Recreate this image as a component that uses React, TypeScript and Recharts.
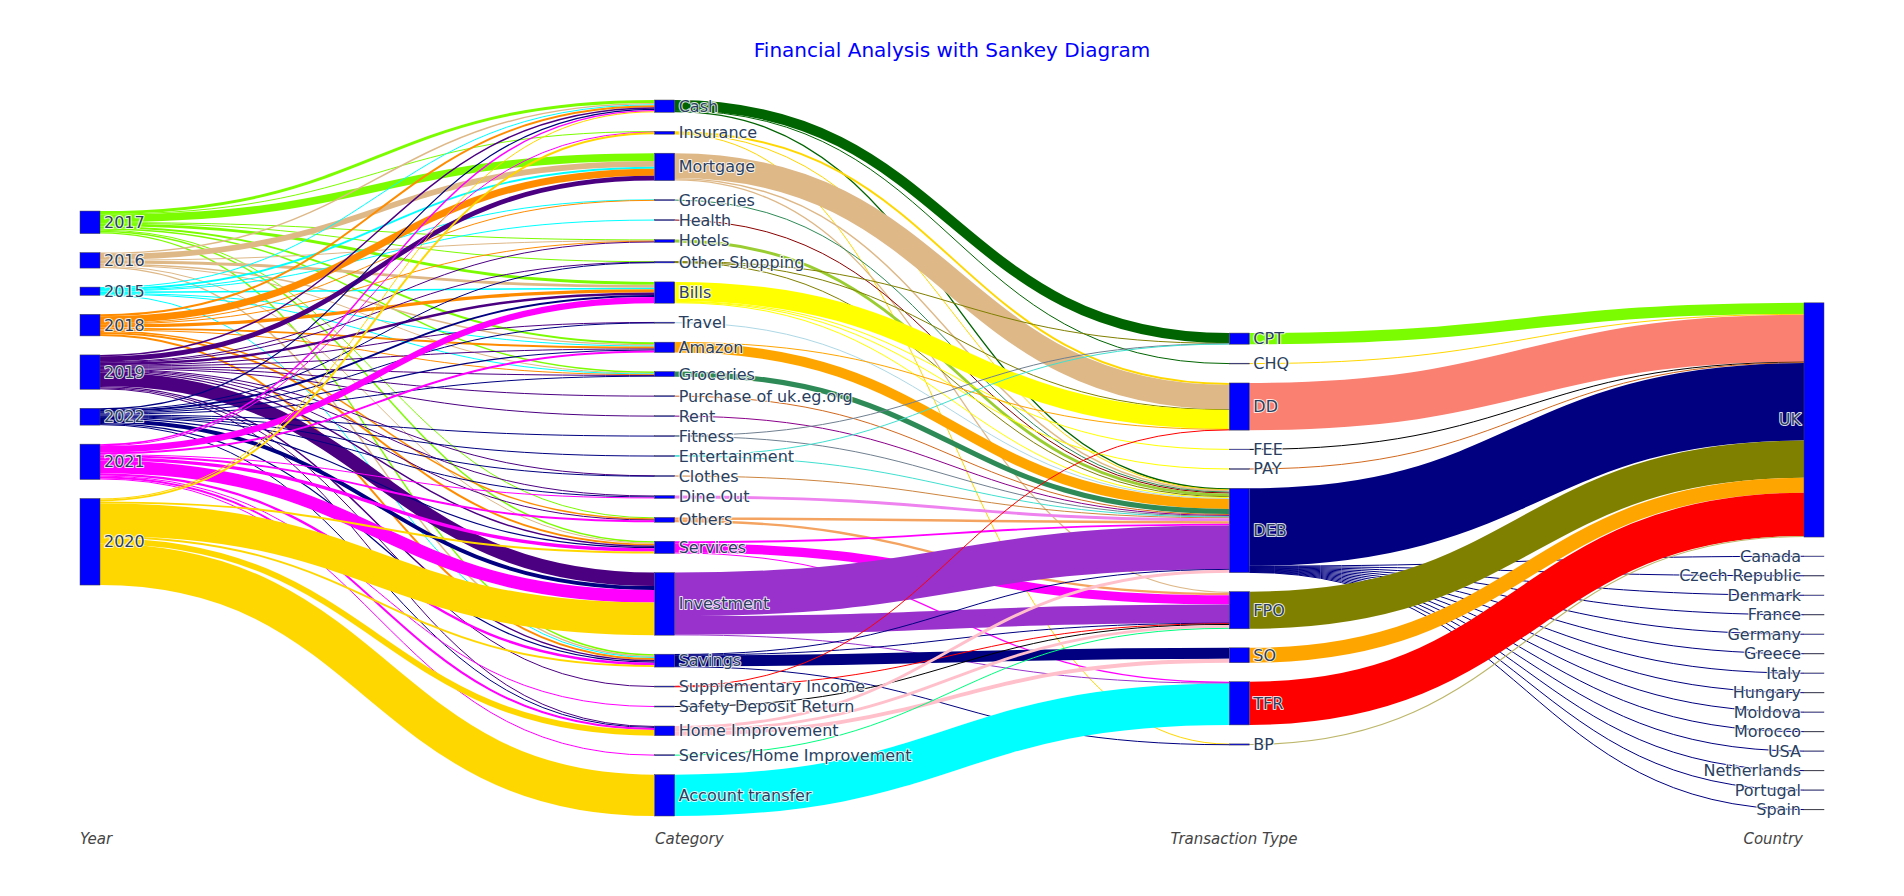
import React from 'react';
import { Sankey } from 'recharts';

const years = ['2017', '2016', '2015', '2018', '2019', '2022', '2021', '2020'];

const categories = [
  'Cash', 'Insurance', 'Mortgage', 'Groceries', 'Health', 'Hotels', 'Other Shopping', 'Bills',
  'Travel', 'Amazon', 'Groceries', 'Purchase of uk.eg.org', 'Rent', 'Fitness', 'Entertainment',
  'Clothes', 'Dine Out', 'Others', 'Services', 'Investment', 'Savings', 'Supplementary Income',
  'Safety Deposit Return', 'Home Improvement', 'Services/Home Improvement', 'Account transfer',
];

const transactionTypes = ['CPT', 'CHQ', 'DD', 'FEE', 'PAY', 'DEB', 'FPO', 'SO', 'TFR', 'BP'];

const countries = [
  'UK', 'Canada', 'Czech Republic', 'Denmark', 'France', 'Germany', 'Greece', 'Italy',
  'Hungary', 'Moldova', 'Morocco', 'USA', 'Netherlands', 'Portugal', 'Spain',
];

// year -> category (rows: years, columns: categories)
const yearToCategory = [
  [3, 0.5, 8, 0, 0, 0.8, 0.5, 3, 0, 2, 1.5, 0, 0, 0, 0, 0, 0, 1, 1.5, 0, 1.5, 0, 0, 0, 0, 0],
  [1.5, 0, 6, 0, 0, 0.7, 0, 3, 0, 1.5, 0.8, 0, 0, 0, 0, 0, 0, 0, 1, 0, 1.5, 0, 0, 0, 0, 0],
  [1, 0, 2, 0.5, 1, 0, 0, 1.5, 0, 1, 0.5, 0, 0, 0, 0, 0, 0, 0, 0, 0, 1, 0, 0, 0, 0, 0],
  [2, 0, 7.3, 0.5, 0, 0.5, 0, 3.5, 0, 2, 1, 0, 0, 0, 0, 0, 0, 1.5, 2, 0, 2, 0, 0, 0, 0, 0],
  [1.5, 0, 5, 0, 0, 1, 0.5, 2.5, 0.5, 1, 0.5, 1, 1, 0, 0, 0.5, 1, 0.5, 1.5, 14, 1.5, 1, 0, 1, 0, 0],
  [1.2, 0, 0, 0, 0, 0, 0.5, 2, 0.5, 1.2, 1, 0, 0, 1, 1, 0.5, 1, 0, 1.2, 4, 1.3, 0, 0, 1, 0, 0],
  [1.5, 0.5, 0, 0, 0, 0, 0, 6.5, 0, 2, 0, 0, 0, 0, 0, 0, 1, 2, 3.5, 13, 2.5, 0, 1, 2, 1, 0],
  [1, 2, 0, 0, 0, 0, 0, 0, 0, 0, 0, 0, 0, 0, 0, 0, 0, 0, 2, 33.7, 2, 0, 0, 6, 0, 42.7],
];

// category -> transaction type (columns: CPT CHQ DD FEE PAY DEB FPO SO TFR BP)
const categoryToType = [
  [10.5, 0.8, 0, 0, 0, 1.4, 0, 0, 0, 0],
  [0, 0, 2, 0, 0, 0.5, 0, 0, 0, 0.5],
  [0, 0, 25.5, 0, 0, 1.5, 1.3, 0, 0, 0],
  [0, 0, 0, 0, 0, 1, 0, 0, 0, 0],
  [0, 0, 0, 0, 0, 1, 0, 0, 0, 0],
  [0, 0, 0, 0, 0, 3, 0, 0, 0, 0],
  [0.4, 0, 0.4, 0, 0, 0.7, 0, 0, 0, 0],
  [0, 0, 19.8, 0.6, 0.6, 1, 0, 0, 0, 0],
  [0, 0, 0, 0, 0, 1, 0, 0, 0, 0],
  [0, 0, 0.5, 0, 0, 10.2, 0, 0, 0, 0],
  [0, 0, 0, 0, 0, 5.3, 0, 0, 0, 0],
  [0, 0, 0, 0, 0, 1, 0, 0, 0, 0],
  [0, 0, 0, 0, 0, 1, 0, 0, 0, 0],
  [0.3, 0, 0, 0, 0, 0.7, 0, 0, 0, 0],
  [0.3, 0, 0, 0, 0, 0.7, 0, 0, 0, 0],
  [0, 0, 0, 0, 0, 1, 0, 0, 0, 0],
  [0, 0, 0, 0, 0, 3, 0, 0, 0, 0],
  [0, 0, 0, 0, 0, 2.5, 2.5, 0, 0, 0],
  [0, 0, 0, 0, 0, 2, 9.5, 0, 1.2, 0],
  [0, 0, 0, 0, 0, 45, 19, 0, 0.7, 0],
  [0, 0, 0, 0, 0, 0.6, 0.6, 11.4, 0, 0.7],
  [0, 0, 0.5, 0, 0, 0, 0.5, 0, 0, 0],
  [0, 0, 0, 0, 0, 0, 1, 0, 0, 0],
  [0, 0, 0, 0, 0, 3, 3, 4, 0, 0],
  [0, 0, 0, 0, 0, 0, 1, 0, 0, 0],
  [0, 0, 0, 0, 0, 0, 0, 0, 42.7, 0],
];

// transaction type -> country (columns: countries)
const typeToCountry = [
  [11.5, 0, 0, 0, 0, 0, 0, 0, 0, 0, 0, 0, 0, 0, 0],
  [0.8, 0, 0, 0, 0, 0, 0, 0, 0, 0, 0, 0, 0, 0, 0],
  [48.7, 0, 0, 0, 0, 0, 0, 0, 0, 0, 0, 0, 0, 0, 0],
  [0.6, 0, 0, 0, 0, 0, 0, 0, 0, 0, 0, 0, 0, 0, 0],
  [0.6, 0, 0, 0, 0, 0, 0, 0, 0, 0, 0, 0, 0, 0, 0],
  [80.1, 0.5, 0.5, 0.5, 0.5, 0.5, 0.5, 0.5, 0.5, 0.5, 0.5, 0.5, 0.5, 0.5, 0.5],
  [38.4, 0, 0, 0, 0, 0, 0, 0, 0, 0, 0, 0, 0, 0, 0],
  [15.4, 0, 0, 0, 0, 0, 0, 0, 0, 0, 0, 0, 0, 0, 0],
  [44.6, 0, 0, 0, 0, 0, 0, 0, 0, 0, 0, 0, 0, 0, 0],
  [1.2, 0, 0, 0, 0, 0, 0, 0, 0, 0, 0, 0, 0, 0, 0],
];

const yearColors = ['lawngreen', 'burlywood', 'cyan', 'darkorange', 'indigo', 'navy', 'magenta', 'gold'];
const categoryColors = [
  'darkgreen', 'gold', 'burlywood', 'seagreen', 'darkred', 'yellowgreen', 'olive', 'yellow',
  'lightblue', 'orange', 'seagreen', 'chocolate', 'darkmagenta', 'slategray', 'turquoise',
  'peru', 'violet', 'sandybrown', 'magenta', 'darkorchid', 'navy', 'red', 'black', 'pink',
  'springgreen', 'cyan',
];
const typeColors = ['lawngreen', 'gold', 'salmon', 'black', 'chocolate', 'navy', 'olive', 'orange', 'red', 'darkkhaki'];

const catStart = years.length;
const typeStart = catStart + categories.length;
const countryStart = typeStart + transactionTypes.length;

const nodes = [...years, ...categories, ...transactionTypes, ...countries].map((name) => ({ name }));

const links: { source: number; target: number; value: number }[] = [];
const linkColors: string[] = [];

function addLinks(matrix: number[][], from: number, to: number, colors: string[]) {
  matrix.forEach((row, i) => {
    row.forEach((v, j) => {
      if (v > 0) {
        links.push({ source: from + i, target: to + j, value: v });
        linkColors.push(colors[i]);
      }
    });
  });
}
addLinks(yearToCategory, 0, catStart, yearColors);
addLinks(categoryToType, catStart, typeStart, categoryColors);
addLinks(typeToCountry, typeStart, countryStart, typeColors);

const labelFont = 'DejaVu Sans, Verdana, sans-serif';

const renderNode = (props: any) => {
  const { x, y, width, height, index, payload } = props;
  const last = index >= countryStart;
  return (
    <g>
      <rect x={x} y={y} width={width} height={Math.max(height, 0.5)} fill="#0000ff" stroke="#444" strokeWidth={0.5} />
      <text
        x={last ? x - 3 : x + width + 4}
        y={y + height / 2}
        textAnchor={last ? 'end' : 'start'}
        dominantBaseline="central"
        fontFamily={labelFont}
        fontSize={16}
        fill="#2a3f5f"
        stroke="#fff"
        strokeWidth={2}
        strokeOpacity={0.85}
        strokeLinejoin="round"
        paintOrder="stroke"
      >
        {payload.name}
      </text>
    </g>
  );
};

const renderLink = (props: any) => {
  const { sourceX, sourceY, targetX, targetY, sourceControlX, targetControlX, linkWidth, index } = props;
  return (
    <path
      d={`M${sourceX},${sourceY} C${sourceControlX},${sourceY} ${targetControlX},${targetY} ${targetX},${targetY}`}
      fill="none"
      stroke={linkColors[index]}
      strokeWidth={Math.max(linkWidth, 1)}
    />
  );
};

const axisStyle: React.CSSProperties = {
  position: 'absolute',
  top: 830,
  fontFamily: labelFont,
  fontStyle: 'italic',
  fontSize: 15,
  color: '#444',
  whiteSpace: 'nowrap',
};

export default function App() {
  return (
    <div style={{ position: 'absolute', left: 0, top: 0, width: 1904, height: 896, background: '#fff' }}>
      <div
        style={{
          position: 'absolute', top: 38, left: 0, width: 1904, textAlign: 'center',
          fontFamily: labelFont, fontSize: 20, color: 'blue',
        }}
      >
        Financial Analysis with Sankey Diagram
      </div>
      <Sankey
        width={1904}
        height={896}
        data={{ nodes, links }}
        nodeWidth={20}
        nodePadding={19}
        iterations={1}
        sort={false}
        margin={{ top: 100, right: 80, bottom: 80, left: 80 }}
        node={renderNode}
        link={renderLink}
      />
      <div style={{ ...axisStyle, left: 80 }}>Year</div>
      <div style={{ ...axisStyle, left: 655 }}>Category</div>
      <div style={{ ...axisStyle, left: 1234, transform: 'translateX(-50%)' }}>Transaction Type</div>
      <div style={{ ...axisStyle, right: 1904 - 1803 }}>Country</div>
    </div>
  );
}
